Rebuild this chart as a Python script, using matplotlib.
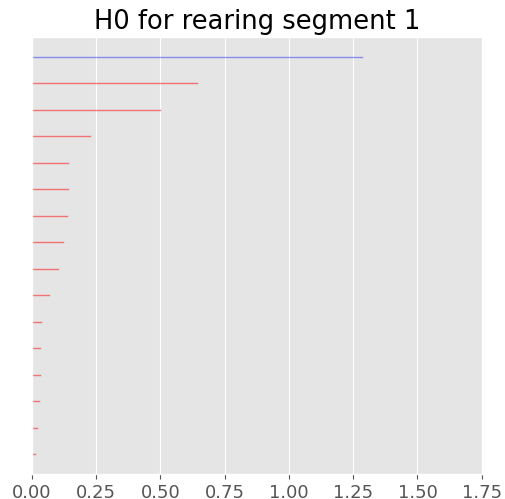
import matplotlib
matplotlib.use('Agg')
import matplotlib.pyplot as plt
import numpy as np
from matplotlib import style
style.use('ggplot')

# H0 barcode: births all 0, deaths (top to bottom)
births = [0.0] * 16
deaths = [1.286, 0.642, 0.498, 0.226, 0.140, 0.140, 0.136, 0.121,
          0.101, 0.066, 0.036, 0.032, 0.030, 0.026, 0.021, 0.012]
infinite = [True] + [False] * 15

fig = plt.figure(figsize=(5.05, 4.99), dpi=100)
ax = fig.add_axes([0.063, 0.05, 0.891, 0.876])

n = len(deaths)
for i, (b, d, inf) in enumerate(zip(births, deaths, infinite)):
    y = n - 1 - i
    if inf:
        ax.plot([b, d], [y, y], color='blue', alpha=0.4, lw=1.0)
    else:
        ax.plot([b, d], [y, y], color='red', alpha=0.5, lw=1.0)

ax.set_xlim(0, 1.75)
ax.set_xticks(np.arange(0, 1.76, 0.25))
ax.set_yticks([])
ax.grid(axis='y', visible=False)
ax.tick_params(axis='x', labelsize=13, colors='#555555')
ax.set_title('H0 for rearing segment 1', fontsize=18.5, color='black')

plt.savefig('out.png', dpi=100)
